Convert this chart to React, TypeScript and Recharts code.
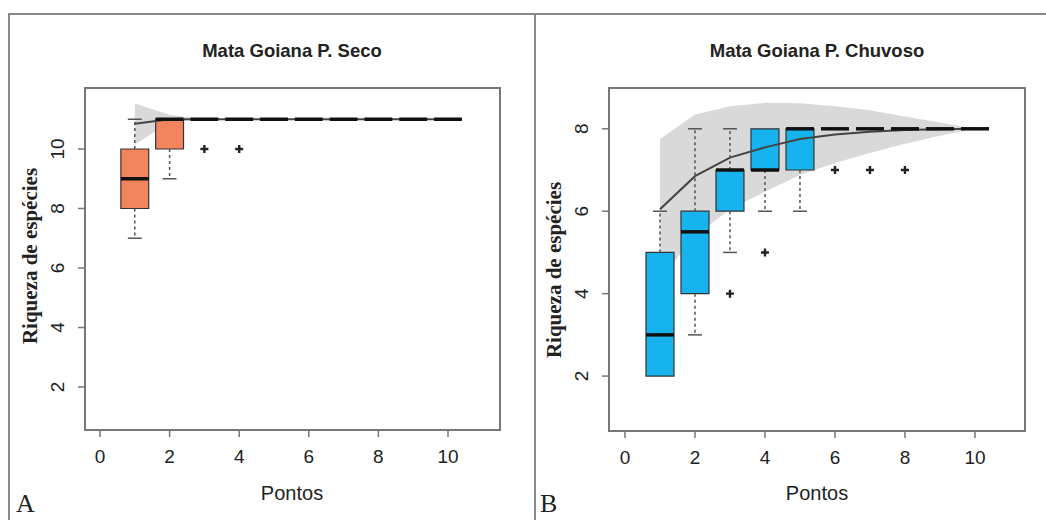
import React from 'react';
import { ComposedChart, Area, Line, Scatter, XAxis, YAxis, ReferenceArea, ReferenceLine } from 'recharts';

// sample points (x) shared by both panels
const pontos = [1, 2, 3, 4, 5, 6, 7, 8, 9, 10];

// Mata Goiana - periodo seco
const secoLow = [7, 9, 11, 11, 11, 11, 11, 11, 11, 11];
const secoQ1 = [8, 10, 11, 11, 11, 11, 11, 11, 11, 11];
const secoMed = [9, 11, 11, 11, 11, 11, 11, 11, 11, 11];
const secoQ3 = [10, 11, 11, 11, 11, 11, 11, 11, 11, 11];
const secoHigh = [11, 11, 11, 11, 11, 11, 11, 11, 11, 11];
const secoMean = [10.85, 11, 11, 11, 11, 11, 11, 11, 11, 11];
const secoLower = [10.15, 10.9, 11, 11, 11, 11, 11, 11, 11, 11];
const secoUpper = [11.53, 11.15, 11, 11, 11, 11, 11, 11, 11, 11];
const secoOutliers = [
  { x: 3, y: 10 },
  { x: 4, y: 10 },
];

// Mata Goiana - periodo chuvoso
const chuvLow = [2, 3, 5, 6, 6, 8, 8, 8, 8, 8];
const chuvQ1 = [2, 4, 6, 7, 7, 8, 8, 8, 8, 8];
const chuvMed = [3, 5.5, 7, 7, 8, 8, 8, 8, 8, 8];
const chuvQ3 = [5, 6, 7, 8, 8, 8, 8, 8, 8, 8];
const chuvHigh = [6, 8, 8, 8, 8, 8, 8, 8, 8, 8];
const chuvMean = [6.05, 6.85, 7.3, 7.55, 7.75, 7.86, 7.93, 7.97, 7.99, 8.0];
const chuvLower = [4.35, 5.4, 6.05, 6.47, 6.88, 7.17, 7.41, 7.64, 7.83, 8.0];
const chuvUpper = [7.75, 8.35, 8.55, 8.63, 8.62, 8.55, 8.45, 8.3, 8.15, 8.0];
const chuvOutliers = [
  { x: 3, y: 4 },
  { x: 4, y: 5 },
  { x: 6, y: 7 },
  { x: 7, y: 7 },
  { x: 8, y: 7 },
];

const xTicks = [0, 2, 4, 6, 8, 10];
const secoYTicks = [2, 4, 6, 8, 10];
const chuvYTicks = [2, 4, 6, 8];

const TICK_FONT = '"Liberation Sans", Arial, sans-serif';
const TEXT = '#222';
const FRAME = '#8a8a8a';

const XTick = (props: any) => (
  <text x={props.x} y={props.y} dy={26} textAnchor="middle" fontSize={19} fontFamily={TICK_FONT} fill={TEXT}>
    {props.payload.value}
  </text>
);

const YTick = (props: any) => (
  <text
    x={props.x}
    y={props.y}
    dy={-14}
    textAnchor="middle"
    fontSize={19}
    fontFamily={TICK_FONT}
    fill={TEXT}
    transform={`rotate(-90, ${props.x}, ${props.y})`}
  >
    {props.payload.value}
  </text>
);

const Plus = (props: any) => {
  const { cx, cy } = props;
  return <path d={`M${cx - 4},${cy}H${cx + 4}M${cx},${cy - 4}V${cy + 4}`} stroke="#222" strokeWidth={2.4} />;
};

function boxMarks(low: number[], q1: number[], med: number[], q3: number[], high: number[], fill: string) {
  const half = 0.4;
  const cap = 0.2;
  const out: React.ReactNode[] = [];
  pontos.forEach((x, i) => {
    if (high[i] > q3[i]) {
      out.push(
        <ReferenceLine key={`wu${i}`} segment={[{ x, y: q3[i] }, { x, y: high[i] }]} stroke="#555" strokeWidth={1.5} strokeDasharray="3 3" />,
        <ReferenceLine key={`cu${i}`} segment={[{ x: x - cap, y: high[i] }, { x: x + cap, y: high[i] }]} stroke="#555" strokeWidth={1.5} />
      );
    }
    if (low[i] < q1[i]) {
      out.push(
        <ReferenceLine key={`wl${i}`} segment={[{ x, y: q1[i] }, { x, y: low[i] }]} stroke="#555" strokeWidth={1.5} strokeDasharray="3 3" />,
        <ReferenceLine key={`cl${i}`} segment={[{ x: x - cap, y: low[i] }, { x: x + cap, y: low[i] }]} stroke="#555" strokeWidth={1.5} />
      );
    }
    if (q3[i] > q1[i]) {
      out.push(
        <ReferenceArea key={`b${i}`} x1={x - half} x2={x + half} y1={q1[i]} y2={q3[i]} fill={fill} fillOpacity={1} stroke="#333" strokeWidth={1.2} />
      );
    }
    out.push(
      <ReferenceLine key={`m${i}`} segment={[{ x: x - half, y: med[i] }, { x: x + half, y: med[i] }]} stroke="#111" strokeWidth={3.5} />
    );
  });
  return out;
}

interface PanelProps {
  left: number;
  title: string;
  letter: string;
  mean: number[];
  lower: number[];
  upper: number[];
  low: number[];
  q1: number[];
  med: number[];
  q3: number[];
  high: number[];
  outliers: { x: number; y: number }[];
  fill: string;
  xDomain: [number, number];
  yDomain: [number, number];
  yTicks: number[];
  margin: { top: number; right: number; bottom: number; left: number };
  plotCenter: number;
  labelCenterY: number;
}

const Panel = (p: PanelProps) => {
  const rows = pontos.map((x, i) => ({ x, mean: p.mean[i], band: [p.lower[i], p.upper[i]] }));
  return (
    <div style={{ position: 'absolute', left: p.left, top: 0, width: 523, height: 520 }}>
      <ComposedChart width={523} height={520} data={rows} margin={p.margin}>
        <XAxis
          dataKey="x"
          type="number"
          domain={p.xDomain}
          ticks={xTicks}
          allowDataOverflow
          axisLine={false}
          tickLine={{ stroke: '#777', strokeWidth: 1.5 }}
          tickSize={7}
          tickMargin={0}
          height={40}
          tick={<XTick />}
        />
        <YAxis
          type="number"
          domain={p.yDomain}
          ticks={p.yTicks}
          allowDataOverflow
          axisLine={false}
          tickLine={{ stroke: '#777', strokeWidth: 1.5 }}
          tickSize={7}
          tickMargin={0}
          width={40}
          tick={<YTick />}
        />
        <Area dataKey="band" type="linear" fill="#d9d9d9" fillOpacity={1} stroke="none" isAnimationActive={false} />
        <Line dataKey="mean" type="linear" dot={false} stroke="#444" strokeWidth={2} isAnimationActive={false} />
        {boxMarks(p.low, p.q1, p.med, p.q3, p.high, p.fill)}
        <Scatter data={p.outliers} dataKey="y" shape={<Plus />} isAnimationActive={false} />
        <ReferenceArea
          x1={p.xDomain[0]}
          x2={p.xDomain[1]}
          y1={p.yDomain[0]}
          y2={p.yDomain[1]}
          fill="none"
          stroke="#777"
          strokeWidth={2}
          ifOverflow="visible"
        />
      </ComposedChart>
      <div
        style={{
          position: 'absolute',
          left: p.plotCenter - 200,
          width: 400,
          top: 40,
          textAlign: 'center',
          fontFamily: TICK_FONT,
          fontWeight: 'bold',
          fontSize: 18.5,
          color: TEXT,
        }}
      >
        {p.title}
      </div>
      <div
        style={{
          position: 'absolute',
          left: p.plotCenter - 200,
          width: 400,
          top: 482,
          textAlign: 'center',
          fontFamily: TICK_FONT,
          fontSize: 20,
          color: TEXT,
        }}
      >
        Pontos
      </div>
      <div
        style={{
          position: 'absolute',
          left: p.margin.left + 40 - 55 - 150,
          width: 300,
          top: p.labelCenterY,
          textAlign: 'center',
          fontFamily: '"Liberation Serif", "Times New Roman", serif',
          fontWeight: 'bold',
          fontSize: 21,
          color: TEXT,
          lineHeight: '24px',
          transform: 'translateY(-12px) rotate(-90deg)',
        }}
      >
        Riqueza de espécies
      </div>
      <div
        style={{
          position: 'absolute',
          left: p.letter === 'A' ? 16 : 17,
          top: 490,
          fontFamily: '"Liberation Serif", "Times New Roman", serif',
          fontSize: 26,
          color: TEXT,
          lineHeight: '28px',
        }}
      >
        {p.letter}
      </div>
    </div>
  );
};

export default function App() {
  return (
    <div style={{ position: 'absolute', left: 0, top: 0, width: 1046, height: 520, background: '#fff', overflow: 'hidden' }}>
      <Panel
        left={0}
        title="Mata Goiana P. Seco"
        letter="A"
        mean={secoMean}
        lower={secoLower}
        upper={secoUpper}
        low={secoLow}
        q1={secoQ1}
        med={secoMed}
        q3={secoQ3}
        high={secoHigh}
        outliers={secoOutliers}
        fill="#f2855e"
        xDomain={[-0.431, 11.494]}
        yDomain={[0.555, 12.05]}
        yTicks={secoYTicks}
        margin={{ top: 88, right: 23, bottom: 50, left: 45 }}
        plotCenter={292}
        labelCenterY={256}
      />
      <Panel
        left={523}
        title="Mata Goiana P. Chuvoso"
        letter="B"
        mean={chuvMean}
        lower={chuvLower}
        upper={chuvUpper}
        low={chuvLow}
        q1={chuvQ1}
        med={chuvMed}
        q3={chuvQ3}
        high={chuvHigh}
        outliers={chuvOutliers}
        fill="#17b3ee"
        xDomain={[-0.457, 11.43]}
        yDomain={[0.667, 8.99]}
        yTicks={chuvYTicks}
        margin={{ top: 88, right: 21, bottom: 49, left: 46 }}
        plotCenter={294}
        labelCenterY={270}
      />
      <div
        style={{
          position: 'absolute',
          left: 8,
          top: 13,
          width: 1100,
          height: 600,
          borderLeft: `2px solid ${FRAME}`,
          borderTop: `2px solid ${FRAME}`,
          pointerEvents: 'none',
        }}
      />
      <div style={{ position: 'absolute', left: 534, top: 13, width: 2, height: 520, background: FRAME }} />
    </div>
  );
}
